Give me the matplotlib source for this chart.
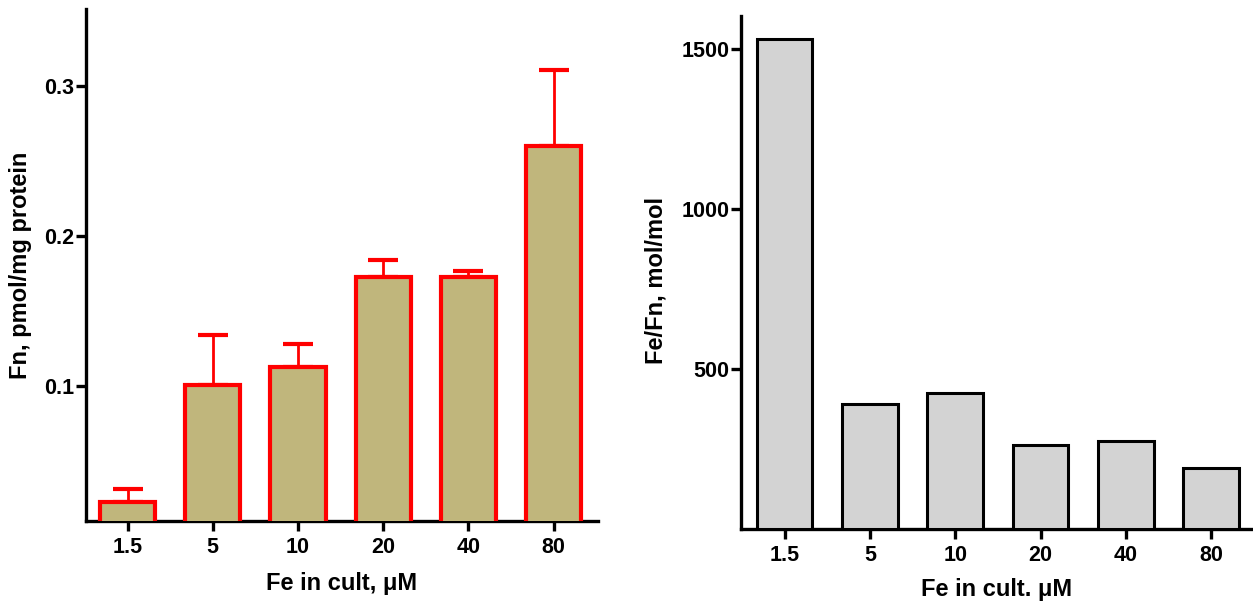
import matplotlib
matplotlib.use("Agg")
import matplotlib.pyplot as plt
import numpy as np

plt.rcParams['font.family'] = ['Liberation Sans', 'DejaVu Sans']
plt.rcParams['font.weight'] = 'bold'

categories = ["1.5", "5", "10", "20", "40", "80"]
fn_values = [0.0226, 0.101, 0.1125, 0.1724, 0.1724, 0.2597]
fn_err_up = [0.0087, 0.033, 0.0153, 0.0113, 0.0042, 0.0504]
ratio_values = [1531, 390, 425, 262, 274, 191]

left_yticks = [0.1, 0.2, 0.3]
left_yticklabels = ["0.1", "0.2", "0.3"]
right_yticks = [500, 1000, 1500]
right_yticklabels = ["500", "1000", "1500"]

fig = plt.figure(figsize=(12.53, 6.03), dpi=100)
W, H = 1253, 603

def axes_px(l, r, t, b):
    return fig.add_axes([l / W, 1 - b / H, (r - l) / W, (b - t) / H])

ax1 = axes_px(86, 598, 9, 521)
ax2 = axes_px(741, 1253, 16, 529)

x = np.arange(len(categories))

def style(ax):
    for s in ['top', 'right']:
        ax.spines[s].set_visible(False)
    for s in ['left', 'bottom']:
        ax.spines[s].set_linewidth(2.4)
    ax.tick_params(axis='y', which='major', direction='out', length=7.5,
                   width=2.4, labelsize=15.5, pad=1)
    ax.tick_params(axis='x', which='major', direction='out', length=7.5,
                   width=2.4, labelsize=15.5, pad=4)
    for lab in ax.get_xticklabels() + ax.get_yticklabels():
        lab.set_fontweight('bold')

# Left chart
ax1.bar(x, fn_values, width=0.65, color='#C0B67C', edgecolor='#FF0000',
        linewidth=3, zorder=3)
ax1.errorbar(x, fn_values, yerr=[np.zeros(len(x)), fn_err_up], fmt='none',
             ecolor='#FF0000', elinewidth=2, capsize=11, capthick=3, zorder=2)
ax1.set_xlim(-0.487, 5.52)
ax1.set_ylim(0.0102, 0.351)
ax1.set_xticks(x)
ax1.set_xticklabels(categories)
ax1.set_yticks(left_yticks)
ax1.set_yticklabels(left_yticklabels)
style(ax1)
ax1.set_xlabel("Fe in cult, \u03bcM", fontsize=17, fontweight='bold', labelpad=10)
ax1.set_ylabel("Fn, pmol/mg protein", fontsize=17, fontweight='bold', labelpad=9)

# Right chart
ax2.bar(x, ratio_values, width=0.65, color='#D3D3D3', edgecolor='#000000',
        linewidth=2.2, zorder=3)
ax2.set_xlim(-0.51, 5.49)
ax2.set_ylim(0, 1604)
ax2.set_xticks(x)
ax2.set_xticklabels(categories)
ax2.set_yticks(right_yticks)
ax2.set_yticklabels(right_yticklabels)
style(ax2)
ax2.set_xlabel("Fe in cult. \u03bcM", fontsize=17, fontweight='bold', labelpad=9)
ax2.set_ylabel("Fe/Fn, mol/mol", fontsize=17, fontweight='bold', labelpad=10)
ax2.yaxis.label.set_y(0.485)

fig.savefig("out.png", dpi=100)
